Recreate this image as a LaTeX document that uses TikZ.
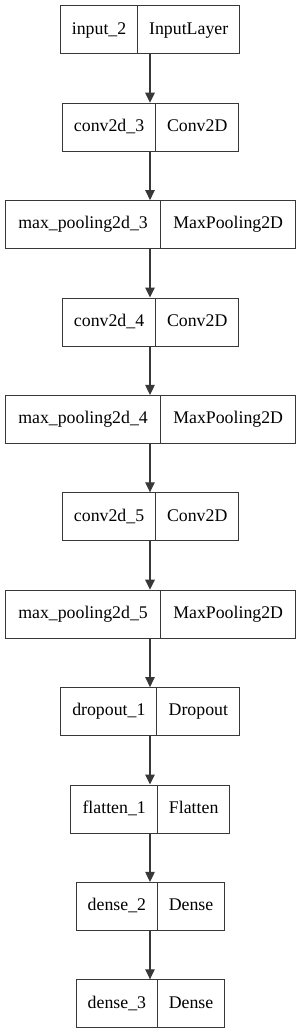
\documentclass[tikz,border=0pt]{standalone}
\usepackage{fontspec}
\setmainfont{Liberation Serif}
\usetikzlibrary{arrows.meta}
\begin{document}
\begin{tikzpicture}[x=1pt,y=-1pt,
  boxline/.style={draw=black!78,line width=1.1pt},
  lbl/.style={font=\fontsize{17.8}{21}\selectfont,text=black,inner sep=0pt},
  arr/.style={draw=black!78,line width=1.1pt,-{Triangle[length=10pt,width=9.5pt]}}]
\fill[white] (0,0) rectangle (300,1033);
\useasboundingbox (0,0) rectangle (300,1033);
\coordinate (axis) at (150,0);
\foreach \i/\l/\d/\r/\ta/\tb in {
  0/60/137/239.3/input\_2/InputLayer,
  1/61.7/155.3/238/conv2d\_3/Conv2D,
  2/4.7/160.3/295/max\_pooling2d\_3/MaxPooling2D,
  3/61.7/155.3/238/conv2d\_4/Conv2D,
  4/4.7/160.3/295/max\_pooling2d\_4/MaxPooling2D,
  5/61.7/155.3/238/conv2d\_5/Conv2D,
  6/4.7/160.3/295/max\_pooling2d\_5/MaxPooling2D,
  7/60.3/156.3/239.3/dropout\_1/Dropout,
  8/70.3/157/229.3/flatten\_1/Flatten,
  9/75.7/157/224/dense\_2/Dense,
  10/75.7/157/224/dense\_3/Dense}{
  \pgfmathsetmacro{\top}{5.3+97.4*\i}
  \pgfmathsetmacro{\bot}{\top+48}
  \pgfmathsetmacro{\mid}{\top+24}
  \node[boxline,minimum width={(\d-\l)*1pt},minimum height=48pt,inner sep=0pt,anchor=north west] (L\i) at (\l,\top) {};
  \node[boxline,minimum width={(\r-\d)*1pt},minimum height=48pt,inner sep=0pt,anchor=north west] (R\i) at (\d,\top) {};
  \node[lbl] (tl\i) at (L\i.center) {\strut\ta};
  \node[lbl] (tr\i) at (R\i.center) {\strut\tb};
}
\foreach \i [evaluate=\i as \j using int(\i+1)] in {0,...,9}{
  \draw[arr] (L\i.south -| axis) -- (L\j.north -| axis);
}
\end{tikzpicture}
\end{document}
